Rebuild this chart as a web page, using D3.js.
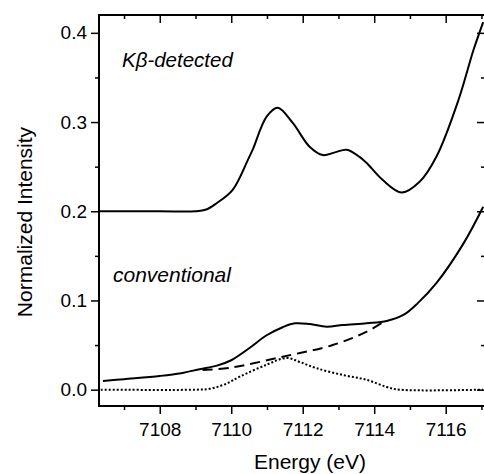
<!DOCTYPE html>
<html><head><meta charset="utf-8">
<script src="https://cdn.jsdelivr.net/npm/d3@7"></script>
<style>
html,body{margin:0;padding:0;background:#fff;}
svg{display:block;font-family:"Liberation Sans",Arial,Helvetica,sans-serif;}
</style></head>
<body><svg id="c" width="484" height="474"></svg>
<script>
// Kβ-detected spectrum (offset by 0.2)
const kbE = [7106.32,7108.0,7109.0,7109.3,7109.59,7110.04,7110.46,7110.6,7110.99,7111.3,7111.72,7112.2,7112.56,7112.9,7113.23,7113.59,7113.79,7114.24,7114.77,7115.27,7115.75,7116.36,7116.78,7117.05];
const kbV = [0.200,0.200,0.200,0.202,0.209,0.224,0.257,0.269,0.306,0.316,0.299,0.272,0.263,0.266,0.269,0.261,0.254,0.235,0.221,0.233,0.262,0.325,0.381,0.412];
// conventional spectrum
const convE = [7106.41,7107.0,7108.0,7108.6,7109.12,7109.6,7110.0,7110.52,7110.99,7111.44,7111.78,7112.2,7112.67,7113.12,7113.79,7114.35,7114.83,7115.22,7115.75,7116.5,7117.05];
const convV = [0.0097,0.0118,0.0154,0.0185,0.023,0.027,0.033,0.047,0.061,0.070,0.0744,0.0735,0.0705,0.0725,0.0745,0.077,0.084,0.097,0.120,0.164,0.205];
// background (dashed)
const bgE = [7109.2,7110.04,7111.44,7112.84,7113.79,7114.3];
const bgV = [0.022,0.025,0.037,0.050,0.065,0.077];
// pre-edge (dotted)
const peE = [7106.35,7109.0,7109.4,7109.82,7110.24,7110.99,7111.55,7111.92,7112.39,7113.12,7113.79,7114.35,7114.71,7117.05];
const peV = [0,0,0.001,0.006,0.0146,0.028,0.0355,0.031,0.024,0.0165,0.011,0.003,0,0];
const xMajor = [7108,7110,7112,7114,7116];
const xMinor = [7107,7109,7111,7113,7115,7117];
const yMajor = [0.0,0.1,0.2,0.3,0.4];
const yMinor = [0.05,0.15,0.25,0.35];

const svg = d3.select("#c");
const L=99, R=485, T=15, B=406;
const x = d3.scaleLinear().domain([7106.3,7117.1]).range([L,R]);
const y = d3.scaleLinear().domain([-0.0183,0.42]).range([B,T]);

const line = d3.line().x(d=>x(d[0])).y(d=>y(d[1])).curve(d3.curveCatmullRom.alpha(0.5));
const zip=(a,b)=>a.map((v,i)=>[v,b[i]]);

const g = svg.append("g");
g.append("path").datum(zip(peE,peV)).attr("d",line).attr("fill","none").attr("stroke","#000").attr("stroke-width",2).attr("stroke-dasharray","2,2");
g.append("path").datum(zip(bgE,bgV)).attr("d",line).attr("fill","none").attr("stroke","#000").attr("stroke-width",2).attr("stroke-dasharray","10,6");
g.append("path").datum(zip(convE,convV)).attr("d",line).attr("fill","none").attr("stroke","#000").attr("stroke-width",2);
g.append("path").datum(zip(kbE,kbV)).attr("d",line).attr("fill","none").attr("stroke","#000").attr("stroke-width",2);

// frame
svg.append("rect").attr("x",L).attr("y",T).attr("width",R-L).attr("height",B-T).attr("fill","none").attr("stroke","#000").attr("stroke-width",2);

// axes
const fs = "19px";
const xb = svg.append("g").attr("transform",`translate(0,${B})`)
  .call(d3.axisBottom(x).tickValues(xMajor).tickSize(8).tickPadding(9).tickFormat(d3.format("d")));
const xbm = svg.append("g").attr("transform",`translate(0,${B})`)
  .call(d3.axisBottom(x).tickValues(xMinor).tickSize(4).tickFormat(""));
const xt = svg.append("g").attr("transform",`translate(0,${T})`)
  .call(d3.axisBottom(x).tickValues(xMajor).tickSize(8).tickFormat(""));
const xtm = svg.append("g").attr("transform",`translate(0,${T})`)
  .call(d3.axisBottom(x).tickValues(xMinor).tickSize(4).tickFormat(""));
const yl = svg.append("g").attr("transform",`translate(${L},0)`)
  .call(d3.axisLeft(y).tickValues(yMajor).tickSize(8).tickPadding(4).tickFormat(d3.format(".1f")));
const ylm = svg.append("g").attr("transform",`translate(${L},0)`)
  .call(d3.axisLeft(y).tickValues(yMinor).tickSize(4).tickFormat(""));
const yr = svg.append("g").attr("transform",`translate(${R},0)`)
  .call(d3.axisLeft(y).tickValues(yMajor).tickSize(8).tickFormat(""));
const yrm = svg.append("g").attr("transform",`translate(${R},0)`)
  .call(d3.axisLeft(y).tickValues(yMinor).tickSize(4).tickFormat(""));
[xb,xbm,xt,xtm,yl,ylm,yr,yrm].forEach(a=>{
  a.select(".domain").remove();
  a.selectAll("line").attr("stroke","#000").attr("stroke-width",1.5);
  a.selectAll("text").attr("font-size",fs).attr("font-family","Liberation Sans,Arial,sans-serif").attr("fill","#000");
});

// labels
svg.append("text").attr("x",122).attr("y",67).attr("font-size","20.5px").attr("font-style","italic").text("Kβ-detected");
svg.append("text").attr("x",113).attr("y",282).attr("font-size","21px").attr("font-style","italic").text("conventional");
svg.append("text").attr("x",(L+R)/2+18).attr("y",469).attr("text-anchor","middle").attr("font-size","21px").text("Energy (eV)");
svg.append("text").attr("transform","translate(32,222) rotate(-90)").attr("text-anchor","middle").attr("font-size","21px").text("Normalized Intensity");
</script></body></html>
